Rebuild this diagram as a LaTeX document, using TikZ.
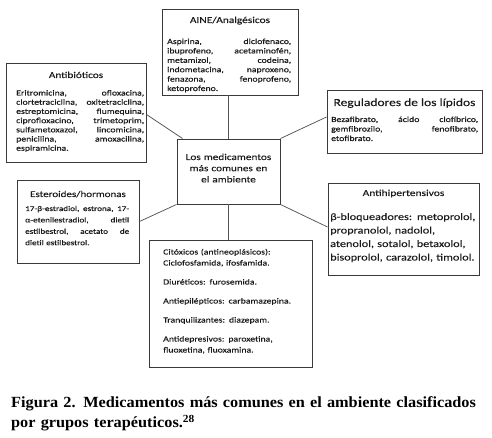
\documentclass[tikz,border=0pt]{standalone}
\usepackage{fontspec}
\newfontfamily\cf[FakeStretch=1.25,FakeBold=0.4]{Carlito}
\newfontfamily\cl[FakeStretch=1.25,FakeBold=0.1]{Carlito}
\newfontfamily\capfont[FakeStretch=1.05]{Liberation Serif}
\definecolor{boxgray}{HTML}{3A3A3A}
\definecolor{linegray}{HTML}{555555}
\definecolor{txt}{HTML}{1A1A1A}
\begin{document}
\begin{tikzpicture}[x=1pt,y=-1pt,
  box/.style={draw=boxgray, line width=0.95pt, inner sep=0pt, fill=white},
  ttl/.style={inner sep=0pt, anchor=base, text=txt},
  body/.style={inner sep=0pt, anchor=base west, align=left, text=txt},
  link/.style={draw=linegray, line width=0.75pt}]
\fill[white] (0,0) rectangle (492,438);
\useasboundingbox (0,0) rectangle (492,438);
% boxes
\node[box, minimum width=136pt, minimum height=86pt] (aine) at (230,52) {};
\node[box, minimum width=140pt, minimum height=99pt] (anti) at (76,112.5) {};
\node[box, minimum width=155pt, minimum height=63pt] (lip) at (404.5,121.5) {};
\node[box, minimum width=103pt, minimum height=65pt] (center) at (228.5,171.5) {};
\node[box, minimum width=122pt, minimum height=83pt] (ester) at (78,221.5) {};
\node[box, minimum width=151pt, minimum height=92pt] (hyp) at (403.5,229) {};
\node[box, minimum width=163pt, minimum height=127pt] (cyto) at (230.5,303.5) {};
% connectors
\draw[link] (center.north |- aine.south) -- (center.north);
\draw[link] ([yshift=-2pt]anti.east) -- ([xshift=6pt]center.north west);
\draw[link] (center.north east) -- ([yshift=4.5pt]lip.west);
\draw[link] (ester.east) -- (center.south west);
\draw[link] (center.south east) -- ([yshift=2pt]hyp.west);
\draw[link] (center.south) -- (center.south |- cyto.north);
% AINE
\node[ttl, font=\cl\fontsize{9.1}{11}\selectfont] (aineT) at (230,23) {AINE/Analgésicos};
\node[body, text width=124pt, font=\cf\fontsize{7.8}{9.4}\selectfont] (aineB) at (167,44) {%
Aspirina,\hfill diclofenaco,\\
ibuprofeno,\hfill acetaminofén,\\
metamizol,\hfill codeina,\\
indometacina,\hfill naproxeno,\\
fenazona,\hfill fenoprofeno,\\
ketoprofeno.};
% Antibioticos
\node[ttl, font=\cl\fontsize{9}{11}\selectfont] (antiT) at (76,78) {Antibióticos};
\node[body, text width=128pt, font=\cf\fontsize{7.8}{9.2}\selectfont] (antiB) at (16,95.5) {%
Eritromicina,\hfill ofloxacina,\\
clortetraciclina,\hfill oxitetraciclina,\\
estreptomicina,\hfill flumequina,\\
ciprofloxacino,\hfill trimetoprim,\\
sulfametoxazol,\hfill lincomicina,\\
penicilina,\hfill amoxacilina,\\
espiramicina.};
% Lipidos
\node[ttl, font=\cl\fontsize{10.8}{12}\selectfont] (lipT) at (404.5,106) {Reguladores de los lípidos};
\node[body, text width=147pt, font=\cf\fontsize{7.8}{9.5}\selectfont] (lipB) at (331,122) {%
Bezafibrato,\hfill ácido\hfill clofíbrico,\\
gemfibrozilo,\hfill fenofibrato,\\
etofibrato.};
% Center
\node[ttl, align=center, text width=100pt, font=\cl\fontsize{9}{11.2}\selectfont] (centerT) at (228.5,160) {%
Los medicamentos\\más comunes en\\el ambiente};
% Esteroides
\node[ttl, font=\cl\fontsize{8.8}{11}\selectfont] (esterT) at (78,197) {Esteroides/hormonas};
\node[body, text width=104pt, font=\cf\fontsize{7.3}{11.4}\selectfont] (esterB) at (25,211) {%
17-β-estradiol,\hfill estrona,\hfill 17-\\
α-etenilestradiol,\hfill dietil\\
estilbestrol,\hfill acetato\hfill de\\
dietil estilbestrol.};
% Antihipertensivos
\node[ttl, font=\cl\fontsize{9.2}{11}\selectfont] (hypT) at (403.5,196) {Antihipertensivos};
\node[body, text width=150pt, font=\cl\fontsize{9.8}{13.5}\selectfont] (hypB) at (330,220) {%
β-bloqueadores: metoprolol,\\
propranolol, nadolol,\\
atenolol, sotalol, betaxolol,\\
bisoprolol, carazolol, timolol.};
% Citoxicos
\node[body, text width=148pt, font=\cl\fontsize{7.8}{11}\selectfont] (cytoB) at (163,254.5) {%
Citóxicos (antineoplásicos):\\
Ciclofosfamida, ifosfamida.\\[8pt]
Diuréticos: furosemida.\\[8pt]
Antiepilépticos: carbamazepina.\\[8pt]
Tranquilizantes: diazepam.\\[8pt]
Antidepresivos: paroxetina,\\
fluoxetina, fluoxamina.};
% Caption
\node[body, text width=480pt, text=black, font=\capfont\bfseries\fontsize{15.5}{20.5}\selectfont] (caption) at (11,407) {%
Figura 2. Medicamentos más comunes en el ambiente clasificados\\
por grupos terapéuticos.\textsuperscript{28}};
\end{tikzpicture}
\end{document}
